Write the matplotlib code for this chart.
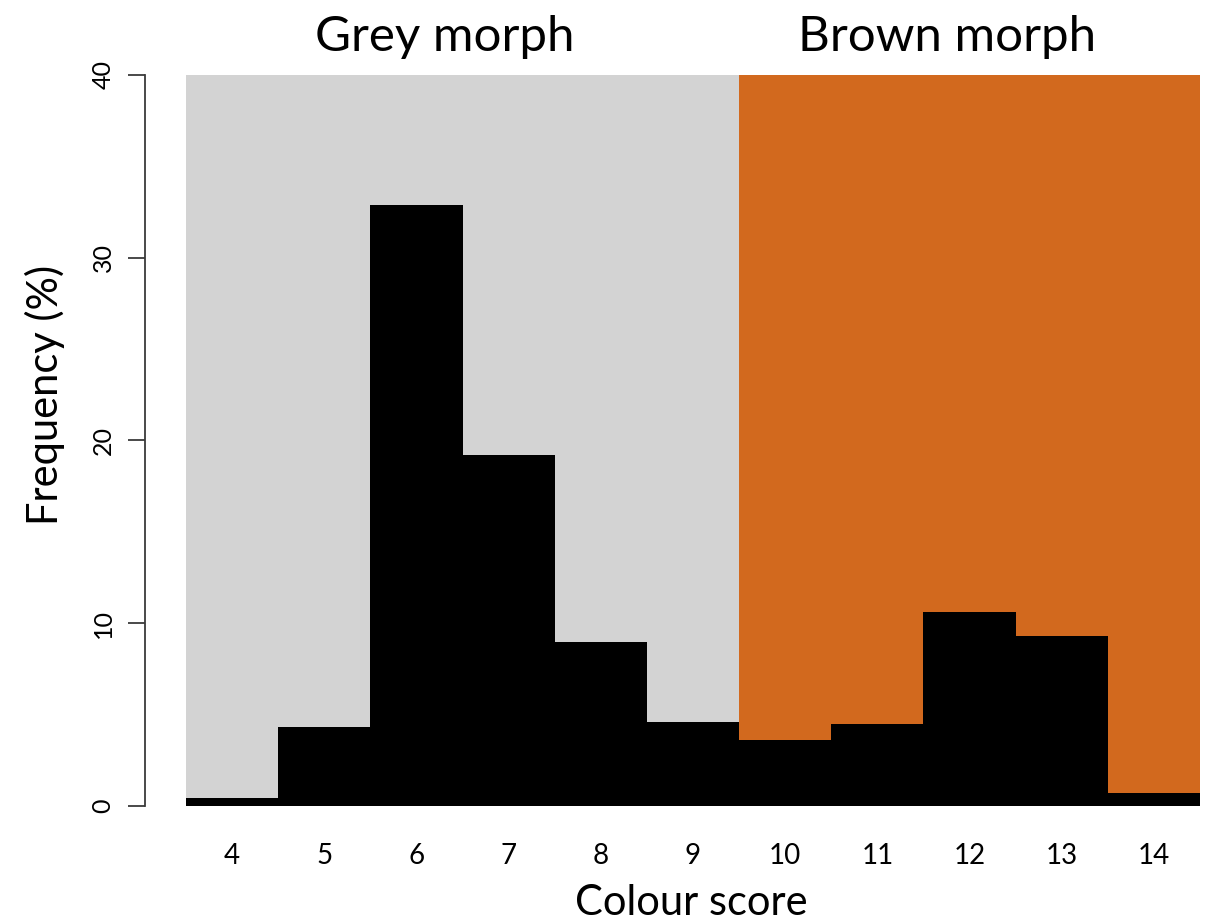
import matplotlib
matplotlib.use('Agg')
import matplotlib.pyplot as plt
import matplotlib.transforms as mtransforms

plt.rcParams['font.family'] = ['Lato', 'DejaVu Sans']

# colour score bins and their frequencies (%)
scores = [4, 5, 6, 7, 8, 9, 10, 11, 12, 13, 14]
freq = [0.45, 4.35, 32.9, 19.2, 9.0, 4.62, 3.6, 4.47, 10.6, 9.3, 0.73]

# background spans for the two morphs
grey_span = (3.5, 9.5)
brown_span = (9.5, 14.5)
morph_labels = ['Grey morph', 'Brown morph']
morph_label_x = [6.31, 11.76]

W, H = 1205, 921
fig = plt.figure(figsize=(W / 100, H / 100), dpi=100)
ax = fig.add_axes([186 / W, 1 - 806 / H, (1200 - 186) / W, (806 - 75) / H])

ax.axvspan(*grey_span, color='#d3d3d3', zorder=0, lw=0)
ax.axvspan(*brown_span, color='#d2691e', zorder=0, lw=0)
ax.bar(scores, freq, width=1.0, color='black', lw=0, zorder=2)

ax.set_xlim(3.5, 14.5)
ax.set_ylim(0, 40)

for s in ['top', 'right', 'bottom']:
    ax.spines[s].set_visible(False)
ax.spines['left'].set_position(('outward', 29.5))
ax.spines['left'].set_bounds(0, 40)
ax.spines['left'].set_linewidth(1.3)
ax.spines['left'].set_color('#3a3a3a')

ax.set_yticks([0, 10, 20, 30, 40])
ax.set_yticklabels(['0', '10', '20', '30', '40'], rotation=90, va='center',
                   fontsize=18)
ax.tick_params(axis='y', length=12, width=1.3, color='#3a3a3a', pad=10)
ax.set_xticks(scores)
ax.set_xticklabels([str(s) for s in scores], fontsize=20)
ax.tick_params(axis='x', length=0, pad=27)

# axis titles placed by baseline
fig.text(691 / W, 1 - 915 / H, 'Colour score', fontsize=30,
         ha='center', va='baseline')
fig.text(58 / W, 1 - 395 / H, 'Frequency (%)', fontsize=30, rotation=90,
         rotation_mode='anchor', ha='center', va='baseline')

trans = mtransforms.blended_transform_factory(ax.transData, fig.transFigure)
for lab, xm in zip(morph_labels, morph_label_x):
    ax.text(xm, 1 - 51 / H, lab, transform=trans, ha='center',
            va='baseline', fontsize=35.5, clip_on=False)

fig.savefig('out.png', dpi=100)
